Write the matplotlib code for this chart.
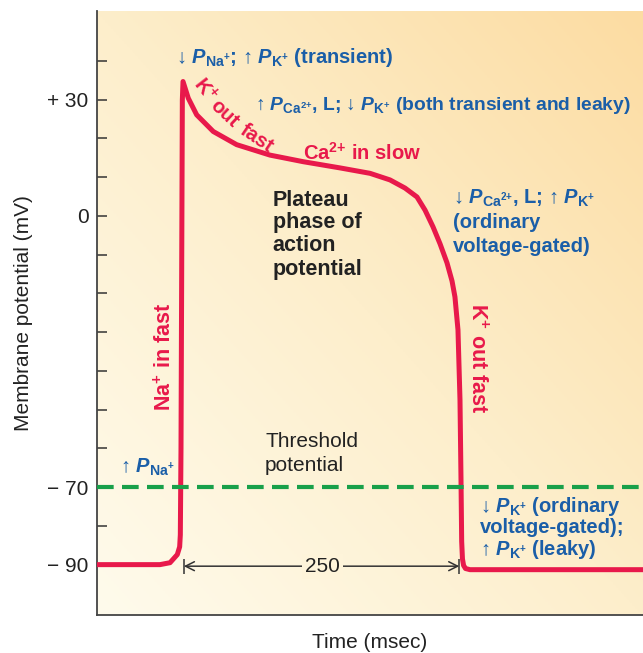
import numpy as np
import matplotlib.pyplot as plt
from matplotlib.colors import LinearSegmentedColormap

plt.rcParams['font.family'] = ['Liberation Sans', 'DejaVu Sans']
plt.rcParams['mathtext.fontset'] = 'custom'
plt.rcParams['mathtext.rm'] = 'Liberation Sans:bold'
plt.rcParams['mathtext.bf'] = 'Liberation Sans:bold'
plt.rcParams['mathtext.it'] = 'Liberation Sans:italic:bold'

# ventricular action potential (time in ms, potential in mV)
time_ms = [-75, -18.8, -9.8, -3.3, -1.2, -0.6, 0, 1.2, 1.8, 6.5, 14.0, 28.8, 49.7,
           79.5, 109.2, 142, 168.8, 186.6, 200, 210.7, 217.9, 225, 231.3, 237.5, 242,
           244.6, 247.3, 249.1, 250, 250.6, 251.3, 252.3, 254, 258, 412.5]
potential_mv = [-90, -90, -89.5, -87.4, -85.4, -82.3, -60, 30, 34.7, 30.4, 26.1, 21.8, 18.4,
                15.7, 14.0, 12.4, 11.0, 9.3, 7.2, 4.9, 1.5, -2.8, -7.2, -12.1, -16.8,
                -20.9, -29.4, -47.5, -68, -84, -88.5, -90.2, -91, -91.3, -91.3]

threshold_mv = -70
duration_ms = 250
ytick_values = list(range(-90, 50, 10))
ytick_labels = {30: '+ 30', 0: '0', -70: '\u2212 70', -90: '\u2212 90'}

red = '#e8194b'
blue = '#1a5ea8'
dark = '#222222'

fig = plt.figure(figsize=(6.43, 6.53), dpi=100)
ax = fig.add_axes([97 / 643, 1 - 615 / 653, 546 / 643, 604 / 653])
xlim = (-75, 412.5)
ylim = (-103, 52.9)

# warm background gradient, pale bottom-left to orange top-right
cmap = LinearSegmentedColormap.from_list('bg', ['#fffbec', '#fdeecb', '#fcdca2'])
gx, gy = np.meshgrid(np.linspace(0, 1, 200), np.linspace(0, 1, 200))
ax.imshow((gx + gy) / 2, cmap=cmap, origin='lower', aspect='auto',
          extent=[xlim[0], xlim[1], ylim[0], ylim[1]], zorder=0)

ax.plot(time_ms, potential_mv, color=red, lw=3.6, solid_joinstyle='round',
        solid_capstyle='butt', zorder=3)
ax.axhline(threshold_mv, color='#18a04a', lw=3, dashes=(4, 2), zorder=4)

# duration marker
ax.annotate('', xy=(2.5, -90.4), xytext=(duration_ms - 1.5, -90.4),
            arrowprops=dict(arrowstyle='<->', color='#333333', lw=1.1,
                            shrinkA=0, shrinkB=0, mutation_scale=16), zorder=2)
ax.vlines([2.5, duration_ms - 1.5], -92.3, -88.5, color='#333333', lw=1.1, zorder=2)
ax.text(126, -90.4, str(duration_ms), fontsize=15, color=dark, ha='center', va='center',
        bbox=dict(boxstyle='square,pad=0.15', fc='#fef4da', ec='none'), zorder=2)

ax.set_xlim(*xlim)
ax.set_ylim(*ylim)
ax.set_yticks(ytick_values)
ax.set_yticklabels([ytick_labels.get(v, '') for v in ytick_values])
ax.set_xticks([])
ax.tick_params(axis='y', direction='in', length=7, width=1.1, color='#333333',
               labelsize=15, pad=6, labelcolor=dark)
for side in ['top', 'right']:
    ax.spines[side].set_visible(False)
for side in ['left', 'bottom']:
    ax.spines[side].set_color('#444444')
    ax.spines[side].set_linewidth(1.3)

ax.set_ylabel('Membrane potential (mV)', fontsize=15, color=dark)
ax.yaxis.set_label_coords(-0.117, 0.5)
ax.set_xlabel('Time (msec)', fontsize=15, color=dark, labelpad=13)

# blue permeability notes
bkw = dict(color=blue, fontweight='bold', ha='left', va='center', zorder=5)
ax.text(-4.5, 41, r'↓ $P_{\mathrm{Na}^{+}}$; ↑ $P_{\mathrm{K}^{+}}$ (transient)', fontsize=14.5, **bkw)
ax.text(66, 28.6, r'↑ $P_{\mathrm{Ca}^{2{+}}}$, L; ↓ $P_{\mathrm{K}^{+}}$ (both transient and leaky)',
        fontsize=13.9, **bkw)
ax.text(243, 4.6, r'↓ $P_{\mathrm{Ca}^{2{+}}}$, L; ↑ $P_{\mathrm{K}^{+}}$', fontsize=14.5, **bkw)
ax.text(243, -1.8, '(ordinary', fontsize=14.5, **bkw)
ax.text(243, -8.0, 'voltage-gated)', fontsize=14.5, **bkw)
ax.text(267, -75.1, r'↓ $P_{\mathrm{K}^{+}}$ (ordinary', fontsize=14.5, **bkw)
ax.text(267, -80.5, 'voltage-gated);', fontsize=14.5, **bkw)
ax.text(267, -86.2, r'↑ $P_{\mathrm{K}^{+}}$ (leaky)', fontsize=14.5, **bkw)
ax.text(-54.5, -64.8, r'↑ $P_{\mathrm{Na}^{+}}$', fontsize=14.5, **bkw)

# red ion-flow labels
rkw = dict(color=red, fontweight='bold', ha='center', va='center', zorder=5)
ax.text(21.5, 32.5, r'K$^{+}$', rotation=-52, fontsize=14.5, **rkw)
ax.text(38.5, 26.5, 'out', rotation=-43, fontsize=14.5, **rkw)
ax.text(67.5, 20.0, 'fast', rotation=-34, fontsize=14.5, **rkw)
ax.text(161.6, 16.3, r'Ca$^{2{+}}$ in slow', fontsize=14.5, **rkw)
ax.text(-14.3, -36.4, r'Na$^{+}$ in fast', rotation=90, fontsize=15.5, **rkw)
ax.text(264.3, -36.6, r'K$^{+}$ out fast', rotation=-90, fontsize=15.5, **rkw)

# black labels
kkw = dict(color=dark, ha='left', va='center', zorder=5)
for yy, line in zip([4.1, -1.8, -7.7, -13.9], ['Plateau', 'phase of', 'action', 'potential']):
    ax.text(82, yy, line, fontweight='bold', fontsize=15.5, **kkw)
ax.text(75, -58.3, 'Threshold', fontsize=15, **kkw)
ax.text(75, -64.3, 'potential', fontsize=15, **kkw)

fig.savefig('out.png', dpi=100)
